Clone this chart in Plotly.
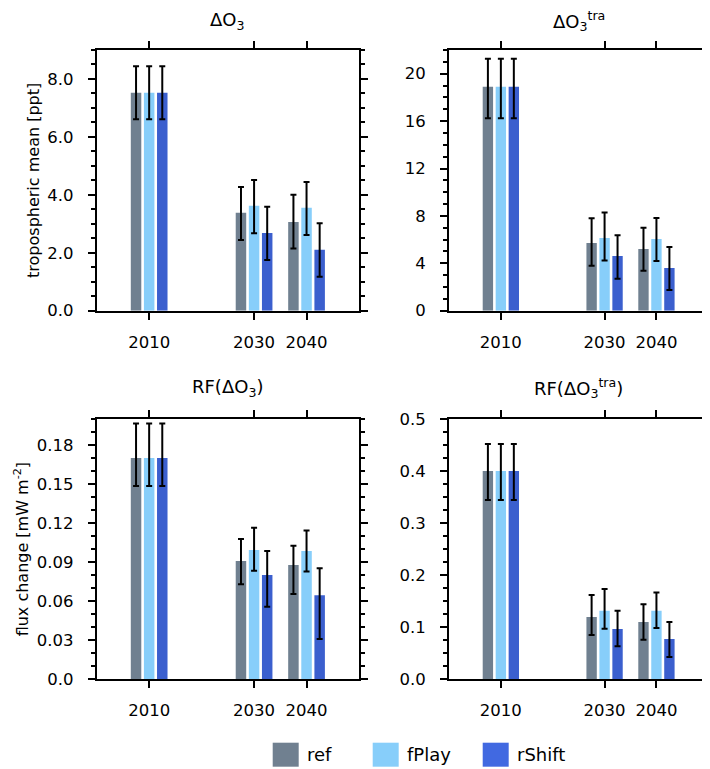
import plotly.graph_objects as go

# ---------------- data ----------------
years = [2010, 2030, 2040]
year_labels = ["2010", "2030", "2040"]
series_names = ["ref", "fPlay", "rShift"]

# Panel 1: tropospheric mean dO3 [ppt]
o3_ref = [7.52, 3.38, 3.06]
o3_ref_hi = [8.44, 4.27, 4.00]
o3_ref_lo = [6.61, 2.44, 2.15]
o3_fplay = [7.52, 3.62, 3.55]
o3_fplay_hi = [8.44, 4.51, 4.44]
o3_fplay_lo = [6.61, 2.67, 2.61]
o3_rshift = [7.52, 2.68, 2.10]
o3_rshift_hi = [8.44, 3.59, 3.02]
o3_rshift_lo = [6.61, 1.75, 1.17]

# Panel 2: tropospheric mean dO3 tra
tra_ref = [18.9, 5.72, 5.21]
tra_ref_hi = [21.27, 7.80, 6.99]
tra_ref_lo = [16.23, 3.80, 3.38]
tra_fplay = [18.9, 6.14, 6.06]
tra_fplay_hi = [21.27, 8.28, 7.83]
tra_fplay_lo = [16.23, 4.23, 4.20]
tra_rshift = [18.9, 4.62, 3.61]
tra_rshift_hi = [21.27, 6.37, 5.38]
tra_rshift_lo = [16.23, 2.70, 1.75]

# Panel 3: RF(dO3) [mW m-2]
rf_ref = [0.170, 0.0909, 0.0878]
rf_ref_hi = [0.1966, 0.1078, 0.1026]
rf_ref_lo = [0.1485, 0.0730, 0.0655]
rf_fplay = [0.170, 0.0993, 0.0986]
rf_fplay_hi = [0.1966, 0.1165, 0.1144]
rf_fplay_lo = [0.1485, 0.0834, 0.0829]
rf_rshift = [0.170, 0.0801, 0.0645]
rf_rshift_hi = [0.1966, 0.0986, 0.0853]
rf_rshift_lo = [0.1485, 0.0558, 0.0310]

# Panel 4: RF(dO3 tra) [mW m-2]
rft_ref = [0.400, 0.1197, 0.1101]
rft_ref_hi = [0.452, 0.162, 0.144]
rft_ref_lo = [0.3444, 0.0851, 0.0762]
rft_fplay = [0.400, 0.1319, 0.1319]
rft_fplay_hi = [0.452, 0.1735, 0.1665]
rft_fplay_lo = [0.3444, 0.0973, 0.0986]
rft_rshift = [0.400, 0.0967, 0.0775]
rft_rshift_hi = [0.452, 0.1319, 0.1101]
rft_rshift_lo = [0.3444, 0.0634, 0.0429]

# tick labels
p1_ticks = [0, 2, 4, 6, 8]
p1_ticktext = ["0.0", "2.0", "4.0", "6.0", "8.0"]
p2_ticks = [0, 4, 8, 12, 16, 20]
p2_ticktext = ["0", "4", "8", "12", "16", "20"]
p3_ticks = [0, 0.03, 0.06, 0.09, 0.12, 0.15, 0.18]
p3_ticktext = ["0.0", "0.03", "0.06", "0.09", "0.12", "0.15", "0.18"]
p4_ticks = [0, 0.1, 0.2, 0.3, 0.4, 0.5]
p4_ticktext = ["0.0", "0.1", "0.2", "0.3", "0.4", "0.5"]

titles = ["ΔO<sub>3</sub>", "ΔO<sub>3</sub><sup>tra</sup>",
          "RF(ΔO<sub>3</sub>)", "RF(ΔO<sub>3</sub><sup>tra</sup>)"]
ytitle_top = "tropospheric mean [ppt]"
ytitle_bottom = "flux change [mW m<sup>-2</sup>]"

# ---------------- style ----------------
# The page body has an 8px margin, so the figure is sized to fit the
# 710x769 window and all layout positions are given in window pixels.
OFF = 8
W, H = 710 - OFF, 769 - OFF
FONT = "DejaVu Sans"
bar_colors = ["#708090", "#87CEFA", "#3B5FCE"]
legend_colors = ["#708090", "#87CEFA", "#4169E1"]


def px(x):
    return (x - OFF) / W


def py(y):
    return 1 - (y - OFF) / H


panels = [
    dict(data=[(o3_ref, o3_ref_hi, o3_ref_lo), (o3_fplay, o3_fplay_hi, o3_fplay_lo),
               (o3_rshift, o3_rshift_hi, o3_rshift_lo)],
         yr=[0, 9], ticks=p1_ticks, ticktext=p1_ticktext, minor=0.5,
         xd=(96.7, 359.0), yd=(50.0, 310.7), ytitle=ytitle_top),
    dict(data=[(tra_ref, tra_ref_hi, tra_ref_lo), (tra_fplay, tra_fplay_hi, tra_fplay_lo),
               (tra_rshift, tra_rshift_hi, tra_rshift_lo)],
         yr=[0, 22], ticks=p2_ticks, ticktext=p2_ticktext, minor=1,
         xd=(449.0, 708.3), yd=(50.0, 310.7), ytitle=None),
    dict(data=[(rf_ref, rf_ref_hi, rf_ref_lo), (rf_fplay, rf_fplay_hi, rf_fplay_lo),
               (rf_rshift, rf_rshift_hi, rf_rshift_lo)],
         yr=[0, 0.2], ticks=p3_ticks, ticktext=p3_ticktext, minor=0.01,
         xd=(96.7, 359.0), yd=(419.0, 679.3), ytitle=ytitle_bottom),
    dict(data=[(rft_ref, rft_ref_hi, rft_ref_lo), (rft_fplay, rft_fplay_hi, rft_fplay_lo),
               (rft_rshift, rft_rshift_hi, rft_rshift_lo)],
         yr=[0, 0.5], ticks=p4_ticks, ticktext=p4_ticktext, minor=0.025,
         xd=(449.0, 708.3), yd=(419.0, 679.3), ytitle=None),
]

fig = go.Figure()
layout = dict(
    width=W, height=H, autosize=False,
    margin=dict(l=0, r=0, t=0, b=0, pad=0),
    paper_bgcolor="white", plot_bgcolor="white",
    barmode="group", bargap=0.25, bargroupgap=0.2,
    showlegend=False,
    font=dict(family=FONT, size=16, color="black"),
)
annotations = []
shapes = []

for i, p in enumerate(panels):
    n = "" if i == 0 else str(i + 1)
    xa, ya = "x" + n, "y" + n
    for k, (vals, hi, lo) in enumerate(p["data"]):
        fig.add_trace(go.Bar(
            x=years, y=vals, name=series_names[k], xaxis=xa, yaxis=ya,
            marker=dict(color=bar_colors[k], line=dict(width=0)),
            offsetgroup=str(k),
            error_y=dict(type="data", symmetric=False,
                         array=[h - v for h, v in zip(hi, vals)],
                         arrayminus=[v - l for v, l in zip(vals, lo)],
                         color="black", thickness=2, width=3),
            showlegend=False,
        ))
    x0, x1 = p["xd"]
    y0, y1 = p["yd"]
    layout["xaxis" + n] = dict(
        domain=[px(x0), min(px(x1), 1.0)], anchor=ya, range=[2000, 2050],
        tickvals=years, ticktext=year_labels, automargin=False,
        ticks="outside", ticklen=7, tickwidth=2, tickcolor="black",
        showline=True, linewidth=2, linecolor="black", mirror="ticks",
        showgrid=False, zeroline=False, ticklabelstandoff=8,
        tickfont=dict(family=FONT, size=16.5, color="black"),
    )
    yax = dict(
        domain=[py(y1), py(y0)], anchor=xa, range=p["yr"],
        tickvals=p["ticks"], ticktext=p["ticktext"], automargin=False,
        ticks="outside", ticklen=7, tickwidth=2, tickcolor="black",
        minor=dict(dtick=p["minor"], tick0=0, ticks="outside", ticklen=4,
                   tickwidth=1.5, tickcolor="black", showgrid=False),
        showline=True, linewidth=2, linecolor="black", mirror="ticks",
        showgrid=False, zeroline=False, ticklabelstandoff=11,
        tickfont=dict(family=FONT, size=16.5, color="black"),
    )
    if p["ytitle"]:
        yax["title"] = dict(text=p["ytitle"], standoff=4,
                            font=dict(family=FONT, size=16, color="black"))
    layout["yaxis" + n] = yax
    # panel title
    ty = 21 if i < 2 else 388
    annotations.append(dict(
        text=titles[i], xref="paper", yref="paper",
        x=px((x0 + x1) / 2), y=py(ty), xanchor="center", yanchor="middle",
        showarrow=False, font=dict(family=FONT, size=18, color="black"),
    ))

# custom legend (large colour boxes)
leg_box_x = [272.7, 372.7, 482.7]
leg_box_w = 26
leg_y0, leg_y1 = 742.7, 766.7
for k, name in enumerate(series_names):
    bx = leg_box_x[k]
    shapes.append(dict(type="rect", xref="paper", yref="paper",
                       x0=px(bx), x1=px(bx + leg_box_w),
                       y0=py(leg_y1), y1=py(leg_y0),
                       fillcolor=legend_colors[k], line=dict(width=0)))
    annotations.append(dict(
        text=name, xref="paper", yref="paper",
        x=px(bx + leg_box_w + 6), y=py((leg_y0 + leg_y1) / 2),
        xanchor="left", yanchor="middle", showarrow=False,
        font=dict(family=FONT, size=18, color="black"),
    ))

layout["annotations"] = annotations
layout["shapes"] = shapes
fig.update_layout(**layout)
fig.write_html("out.html")
